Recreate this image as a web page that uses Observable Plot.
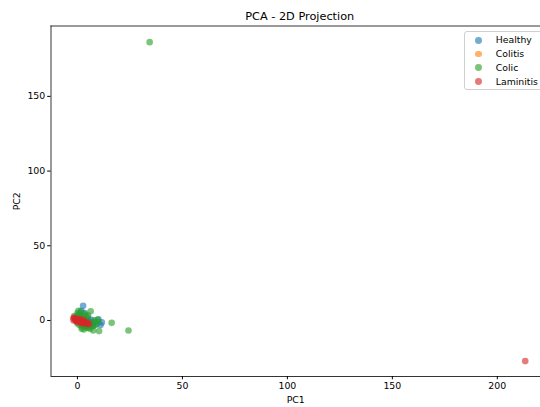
<!DOCTYPE html>
<html>
<head>
<meta charset="utf-8">
<script src="https://cdn.jsdelivr.net/npm/d3@7"></script>
<script src="https://cdn.jsdelivr.net/npm/@observablehq/plot@0.6"></script>
<style>
html, body { margin: 0; padding: 0; background: #fff; overflow: hidden; }
#wrap { position: relative; width: 540px; height: 407px; overflow: hidden; font-family: "DejaVu Sans", sans-serif; }
#legend { position: absolute; left: 464px; top: 30.5px; width: 80px; height: 59.5px; box-sizing: border-box;
  border: 0.8px solid #d0d0d0; border-radius: 3px; background: rgba(255,255,255,0.8); }
.row { position: absolute; left: 0; height: 14px; font-size: 9.3px; color: #000; line-height: 14px; }
.dot { position: absolute; left: 10.2px; top: 3.5px; width: 6.8px; height: 6.8px; border-radius: 50%; }
.lab { position: absolute; left: 30.8px; top: 0; white-space: nowrap; }
</style>
</head>
<body>
<div id="wrap"></div>
<script>
const classes = ["Healthy", "Colitis", "Colic", "Laminitis"];
const colors = ["#1f77b4", "#ff7f0e", "#2ca02c", "#d62728"];

const healthyPC1 = [2.7, 0.5, 1.5, 3.5, 2, 4, 5, 6, 7, 8, 10, 11.6, 11, 3, 1, 0, -1, 5, 4, 2.5, 6.5, 9, 7.5, 1.8];
const healthyPC2 = [9.8, 4, 3, 5, 1, 0.5, 2, -1, -2, -1, 0.8, -1.3, -3, -2, -1, 1, 2, -4, -3, -0.5, 0.5, -2.5, -3.5, 6.5];

const colitisPC1 = [-0.5, 1, 2, 0.5];
const colitisPC2 = [0.5, 0, -0.5, 1.2];

const colicPC1 = [34.4, 6.3, 16.3, 24.3, 10.3, 7.5, 9.5, 10, 8.5, 5, 4, 3, 2, 1, 0, 1.5, 3, 2.5, 4.5, 5.5, 6, 0, -1, 1, 3.5, 7, 8, 2, 4, 5, -1.5, 0.5, 6, 3, 7];
const colicPC2 = [186.3, 6.2, -1.6, -6.7, -7.1, -6.7, 0.5, -1, -3, -5, -4.5, -3.5, -4, 3.5, 5, 5.5, 4.5, 2, 1, -2, -3, -2, 0.5, -3, -1, -1.5, 0.2, -5.5, 3, 3.5, 3, 6.5, -5.5, -6, -4];

const laminitisPC1 = [213.3, -2, -1.5, -1, -0.5, 0, 0.5, 1, 1.5, 2, 2.5, 3, 3.5, 4, 4.5, 5, 5.5, -1.8, 0, 1, 2, 3, -0.5, 1.5, 2.5];
const laminitisPC2 = [-27.2, 1.5, 2, 0.5, 1, 0, 0.5, -0.5, 0, -1, -0.5, -1.5, -1, -1.8, -2.2, -1.5, -2.5, 0, -1, 1, 0.5, 0, -0.5, -1.5, -2];

const xTicks = [0, 50, 100, 150, 200];
const yTicks = [0, 50, 100, 150];

const series = [
  [healthyPC1, healthyPC2],
  [colitisPC1, colitisPC2],
  [colicPC1, colicPC2],
  [laminitisPC1, laminitisPC2]
];
const data = [];
series.forEach(([xs, ys], k) => xs.forEach((x, i) => data.push({cls: classes[k], pc1: x, pc2: ys[i]})));

const xDomain = [-12.6, 222];
const yDomain = [-37.5, 197.1];

const plot = Plot.plot({
  width: 540,
  height: 407,
  marginLeft: 50.5,
  marginRight: 0,
  marginTop: 25.5,
  marginBottom: 31,
  style: {fontFamily: "DejaVu Sans, sans-serif", fontSize: "9.4px", color: "#000", overflow: "hidden"},
  x: {domain: xDomain, range: [50.5, 543]},
  y: {domain: yDomain},
  color: {domain: classes, range: colors},
  marks: [
    Plot.dot(data, {x: "pc1", y: "pc2", fill: "cls", r: 3.3, fillOpacity: 0.62, stroke: "none"}),
    Plot.ruleY([yDomain[1]], {stroke: "#000", strokeWidth: 0.8}),
    Plot.ruleY([yDomain[0]], {stroke: "#000", strokeWidth: 0.8}),
    Plot.ruleX([xDomain[0]], {stroke: "#000", strokeWidth: 0.8}),
    Plot.axisX({ticks: xTicks, tickSize: 3.3, tickPadding: 2.4, label: "PC1", labelAnchor: "center", labelArrow: "none", labelOffset: 26, fontSize: 9.4}),
    Plot.axisY({ticks: yTicks, tickSize: 3.3, tickPadding: 2.4, label: "PC2", labelAnchor: "center", labelArrow: "none", labelOffset: 38, fontSize: 9.4}),
    Plot.text(["PCA - 2D Projection"], {frameAnchor: "top", dy: -14, dx: 4, fontSize: 11.3, fill: "#000"})
  ]
});

const wrap = document.getElementById("wrap");
wrap.appendChild(plot);

const legend = document.createElement("div");
legend.id = "legend";
classes.forEach((c, i) => {
  const row = document.createElement("div");
  row.className = "row";
  row.style.top = (1.8 + i * 13.8) + "px";
  const dot = document.createElement("span");
  dot.className = "dot";
  dot.style.background = colors[i];
  dot.style.opacity = 0.62;
  const lab = document.createElement("span");
  lab.className = "lab";
  lab.textContent = c;
  row.appendChild(dot);
  row.appendChild(lab);
  legend.appendChild(row);
});
wrap.appendChild(legend);
</script>
</body>
</html>
